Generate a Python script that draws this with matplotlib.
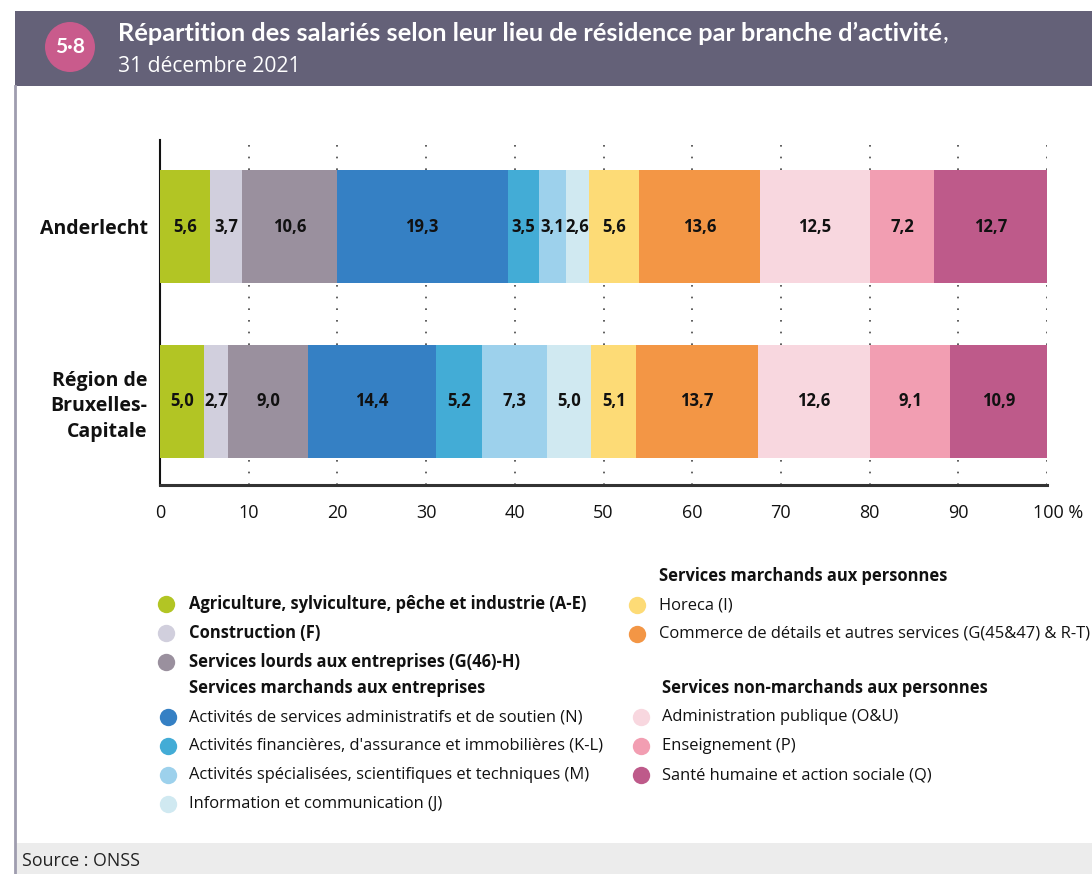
import matplotlib
matplotlib.use("Agg")
import matplotlib.pyplot as plt
from matplotlib import font_manager
from matplotlib.patches import Rectangle, Ellipse
from matplotlib.lines import Line2D
import matplotlib.transforms as mtrans

# ---------------- data ----------------
regions = ["Anderlecht", "Région de\nBruxelles-\nCapitale"]
anderlecht = [5.6, 3.7, 10.6, 19.3, 3.5, 3.1, 2.6, 5.6, 13.6, 12.5, 7.2, 12.7]
bruxelles = [5.0, 2.7, 9.0, 14.4, 5.2, 7.3, 5.0, 5.1, 13.7, 12.6, 9.1, 10.9]
branches = [
    "Agriculture, sylviculture, pêche et industrie (A-E)",
    "Construction (F)",
    "Services lourds aux entreprises (G(46)-H)",
    "Activités de services administratifs et de soutien (N)",
    "Activités financières, d'assurance et immobilières (K-L)",
    "Activités spécialisées, scientifiques et techniques (M)",
    "Information et communication (J)",
    "Horeca (I)",
    "Commerce de détails et autres services (G(45&47) & R-T)",
    "Administration publique (O&U)",
    "Enseignement (P)",
    "Santé humaine et action sociale (Q)",
]
group_headers = [
    "Services marchands aux entreprises",
    "Services marchands aux personnes",
    "Services non-marchands aux personnes",
]
colors = ["#b2c524", "#d1cfdd", "#9a909e", "#3580c4", "#43acd6", "#9dd1ec",
          "#d0e9f1", "#fddb76", "#f39645", "#f8d7df", "#f29eb2", "#be5a8a"]
xticks = [0, 10, 20, 30, 40, 50, 60, 70, 80, 90, 100]
xticklabels = ["0", "10", "20", "30", "40", "50", "60", "70", "80", "90", "100 %"]
title = "Répartition des salariés selon leur lieu de résidence par branche d\u2019activité"
subtitle = "31 décembre 2021"
badge = "5\u00b78"
source = "Source : ONSS"

# ---------------- fonts ----------------
avail = {f.name for f in font_manager.fontManager.ttflist}
def pick(*names):
    for n in names:
        if n in avail:
            return n
    return "DejaVu Sans"
BODY = pick("Open Sans", "Noto Sans", "Lato")
HEAD = pick("Lato", "Open Sans", "Noto Sans")

W, H = 1092, 874
fig = plt.figure(figsize=(W / 100, H / 100), dpi=100)
fig.patch.set_facecolor("white")

def fx(x):
    return x / W
def fy(y):
    return 1 - y / H

# header band
fig.add_artist(Rectangle((fx(15), fy(86)), fx(W) - fx(15), fy(11) - fy(86),
                         transform=fig.transFigure, facecolor="#646178", edgecolor="none", zorder=0))
fig.add_artist(Ellipse((fx(70), fy(47)), 50 / W, 50 / H, transform=fig.transFigure,
                       facecolor="#c95b8c", edgecolor="none", zorder=1))
fig.text(fx(70), fy(47), badge, color="white", fontsize=15, fontweight="bold",
         family=HEAD, ha="center", va="center", zorder=2)
t = fig.text(fx(118), fy(33), title, color="white", fontsize=18.3, fontweight="bold",
             family=HEAD, ha="left", va="center")
fig.canvas.draw()
bb = t.get_window_extent()
fig.text(bb.x1 / W + 0.0005, fy(33), ",", color="white", fontsize=18.3, family=HEAD,
         ha="left", va="center")
fig.text(fx(118), fy(66), subtitle, color="white", fontsize=15.2, family=BODY,
         ha="left", va="center")

# left border and footer
fig.add_artist(Rectangle((fx(15), 0), fx(W) - fx(15), fy(843),
                         transform=fig.transFigure, facecolor="#ececec", edgecolor="none", zorder=0))
fig.add_artist(Line2D([fx(15), fx(15)], [0, fy(86)], transform=fig.transFigure,
                      color="#9f9daf", lw=2, zorder=1))
fig.text(fx(22), fy(861), source, fontsize=12.8, family=BODY, color="#222222",
         ha="left", va="center")

# ---------------- axes ----------------
ax = fig.add_axes([fx(160), fy(485), fx(1047) - fx(160), fy(140) - fy(485)])
ypos = [1, 0]
bar_h = 0.648
for yi, vals in zip(ypos, [anderlecht, bruxelles]):
    left = 0.0
    for v, c in zip(vals, colors):
        ax.barh(yi, v, left=left, height=bar_h, color=c, edgecolor="none", zorder=3)
        ax.text(left + v / 2, yi, f"{v:.1f}".replace(".", ","), ha="center", va="center",
                fontsize=12, fontweight="bold", family=BODY, color="#111111", zorder=4)
        left += v

ax.set_xlim(0, 100)
ax.set_ylim(-0.481, 1.496)
ax.set_xticks(xticks)
ax.set_xticklabels(xticklabels, fontsize=13, family=BODY, color="#111111")
ax.set_yticks(ypos)
ax.set_yticklabels(regions, fontsize=14, fontweight="bold", family=BODY, color="#111111",
                   linespacing=1.38)
ax.tick_params(axis="both", length=0)
ax.tick_params(axis="x", pad=14)
ax.tick_params(axis="y", pad=9)
last = ax.get_xticklabels()[-1]
last.set_horizontalalignment("left")
last.set_transform(last.get_transform() +
                   mtrans.ScaledTranslation(-14 / 100, 0, fig.dpi_scale_trans))
ax.xaxis.grid(True, linestyle=(0, (1, 6)), color="#444444", lw=1.2, zorder=0)
ax.set_axisbelow(True)
for s in ["top", "right"]:
    ax.spines[s].set_visible(False)
ax.spines["left"].set_color("#111111")
ax.spines["left"].set_linewidth(1.5)
ax.spines["bottom"].set_color("#333333")
ax.spines["bottom"].set_linewidth(2.2)

# ---------------- legend ----------------
LFS = 11.9
def item(xm, xt, y, label, color, bold=False):
    fig.add_artist(Line2D([fx(xm)], [fy(y)], transform=fig.transFigure, marker="o",
                          markersize=12.5, markerfacecolor=color, markeredgecolor="none",
                          linestyle="none"))
    fig.text(fx(xt), fy(y), label, fontsize=LFS, family=BODY, color="#111111",
             fontweight="bold" if bold else "normal", ha="left", va="center")

def header(x, y, label):
    fig.text(fx(x), fy(y), label, fontsize=LFS, family=BODY, color="#111111",
             fontweight="bold", ha="left", va="center")

# left column
for i, yy in zip(range(3), [604, 633, 662]):
    item(166, 189, yy, branches[i], colors[i], bold=True)
header(189, 688, group_headers[0])
for i, yy in zip(range(3, 7), [717, 746, 775, 804]):
    item(168, 189, yy, branches[i], colors[i])
# right column
header(659, 576, group_headers[1])
for i, yy in zip(range(7, 9), [605, 634]):
    item(637, 659, yy, branches[i], colors[i])
header(662, 688, group_headers[2])
for i, yy in zip(range(9, 12), [717, 746, 775]):
    item(641, 662, yy, branches[i], colors[i])

fig.savefig("out.png", dpi=100, facecolor="white")
